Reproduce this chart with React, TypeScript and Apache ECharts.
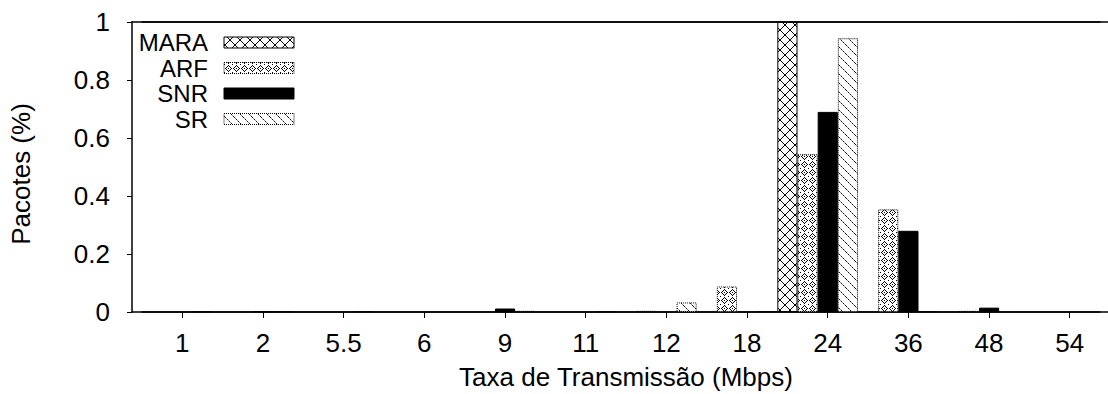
import React, { useEffect, useRef } from "react";
import * as echarts from "echarts";

const categories = ["1", "2", "5.5", "6", "9", "11", "12", "18", "24", "36", "48", "54"];
const seriesNames = ["MARA", "ARF", "SNR", "SR"];
const maraValues = [0, 0, 0, 0, 0, 0, 0, 0, 1.0, 0, 0, 0];
const arfValues = [0, 0, 0, 0, 0, 0, 0.004, 0.088, 0.544, 0.354, 0.004, 0];
const snrValues = [0, 0.002, 0, 0, 0.012, 0, 0, 0, 0.69, 0.28, 0.015, 0];
const srValues = [0.002, 0.002, 0.002, 0, 0.004, 0.002, 0.033, 0.003, 0.944, 0.003, 0, 0];
const yMin = 0;
const yMax = 1;
const yStep = 0.2;
const xTitle = "Taxa de Transmissão (Mbps)";
const yTitle = "Pacotes (%)";

const FONT = '"Liberation Sans", Arial, Helvetica, sans-serif';
const AXIS_FONT_SIZE = 26;

function makeTile(size: number, paint: (x: number, y: number) => string | null) {
  const c = document.createElement("canvas");
  c.width = size;
  c.height = size;
  const ctx = c.getContext("2d")!;
  ctx.fillStyle = "#ffffff";
  ctx.fillRect(0, 0, size, size);
  for (let y = 0; y < size; y++) {
    for (let x = 0; x < size; x++) {
      const col = paint(x, y);
      if (col) {
        ctx.fillStyle = col;
        ctx.fillRect(x, y, 1, 1);
      }
    }
  }
  return { image: c.toDataURL(), repeat: "repeat", imageWidth: size, imageHeight: size } as any;
}

export default function App() {
  const ref = useRef<HTMLDivElement>(null);
  useEffect(() => {
    if (!ref.current) return;
    const chart = echarts.init(ref.current, null, { renderer: "svg" });

    const maraPattern = makeTile(10, (x, y) => (x === y || x + y === 9 ? "#000" : null));
    const arfPattern = makeTile(8, (x, y) => {
      const d = Math.abs(x - 4) + Math.abs(y - 4);
      if (d === 3) return "#000";
      if (x === 4 && y === 4) return "#000";
      if (x === 0 && y === 0) return "#000";
      return null;
    });
    const srPattern = makeTile(9, (x, y) =>
      (x - y + 9) % 9 === 0 ? (x % 2 === 0 ? "#111" : "#888") : null
    );

    const styles = [
      { color: maraPattern, borderType: "solid" },
      { color: arfPattern, borderType: "dotted" },
      { color: "#000", borderType: "solid" },
      { color: srPattern, borderType: "dotted" },
    ];
    const values = [maraValues, arfValues, snrValues, srValues];

    const axisLineStyle = { color: "#000", width: 1.5 };

    const legendGraphics: any[] = [];
    seriesNames.forEach((name, i) => {
      const cy = 42.5 + i * 25.5;
      legendGraphics.push({
        type: "text",
        x: 208,
        y: cy,
        style: {
          text: name,
          align: "right",
          verticalAlign: "middle",
          fontSize: 24,
          fontFamily: FONT,
          fill: "#000",
        },
      });
      legendGraphics.push({
        type: "rect",
        shape: { x: 224, y: cy - 5.5, width: 70, height: 11 },
        style: {
          fill: styles[i].color,
          stroke: "#000",
          lineWidth: 1,
          lineDash: styles[i].borderType === "dotted" ? [1, 1] : null,
        },
      });
    });

    chart.setOption({
      animation: false,
      backgroundColor: "#fff",
      textStyle: { fontFamily: FONT },
      grid: [
        { left: 132, top: 22, width: 968, height: 290, containLabel: false, outerBoundsMode: "none" },
        { left: 142, top: 22, width: 968, height: 290, containLabel: false, outerBoundsMode: "none" },
      ],
      xAxis: [
        {
          type: "category",
          gridIndex: 0,
          data: categories,
          position: "bottom",
          axisLine: { show: true, onZero: false, lineStyle: axisLineStyle },
          axisTick: { show: false },
          axisLabel: { show: false },
          splitLine: { show: false },
        },
        {
          type: "category",
          gridIndex: 1,
          data: categories,
          position: "bottom",
          axisLine: { show: true, onZero: false, lineStyle: axisLineStyle },
          axisTick: { show: true, alignWithLabel: true, length: 6, lineStyle: { color: "#000", width: 1 } },
          axisLabel: { show: true, color: "#000", fontSize: AXIS_FONT_SIZE, fontFamily: FONT, margin: 18 },
          splitLine: { show: false },
          name: xTitle,
          nameLocation: "middle",
          nameGap: 52,
          nameTextStyle: { color: "#000", fontSize: AXIS_FONT_SIZE, fontFamily: FONT },
        },
        {
          type: "category",
          gridIndex: 0,
          data: categories,
          position: "top",
          axisLine: { show: true, onZero: false, lineStyle: axisLineStyle },
          axisTick: { show: false },
          axisLabel: { show: false },
        },
        {
          type: "category",
          gridIndex: 1,
          data: categories,
          position: "top",
          axisLine: { show: true, onZero: false, lineStyle: axisLineStyle },
          axisTick: { show: false },
          axisLabel: { show: false },
        },
      ],
      yAxis: [
        {
          type: "value",
          gridIndex: 0,
          min: yMin,
          max: yMax,
          interval: yStep,
          axisLine: { show: true, lineStyle: axisLineStyle },
          axisTick: { show: true, length: 5, lineStyle: { color: "#000", width: 1 } },
          axisLabel: { color: "#000", fontSize: AXIS_FONT_SIZE, fontFamily: FONT, margin: 22 },
          splitLine: { show: false },
          name: yTitle,
          nameLocation: "middle",
          nameGap: 98,
          nameTextStyle: { color: "#000", fontSize: AXIS_FONT_SIZE, fontFamily: FONT, padding: [0, 14, 0, 0] },
        },
        {
          type: "value",
          gridIndex: 1,
          min: yMin,
          max: yMax,
          show: false,
        },
      ],
      series: seriesNames.map((name, i) => ({
        name,
        type: "bar",
        xAxisIndex: 0,
        yAxisIndex: 0,
        data: values[i].map((v) =>
          v === 0 ? { value: v, itemStyle: { borderWidth: 0 } } : v
        ),
        barGap: "0%",
        barCategoryGap: "0%",
        itemStyle: {
          color: styles[i].color,
          borderColor: "#000",
          borderWidth: 1,
          borderType: styles[i].borderType,
        },
      })),
      graphic: legendGraphics,
    });

    return () => chart.dispose();
  }, []);

  return (
    <div style={{ position: "fixed", left: 0, top: 0, width: 1108, height: 394, overflow: "hidden", background: "#fff" }}>
      <div ref={ref} style={{ width: 1120, height: 394 }} />
    </div>
  );
}
